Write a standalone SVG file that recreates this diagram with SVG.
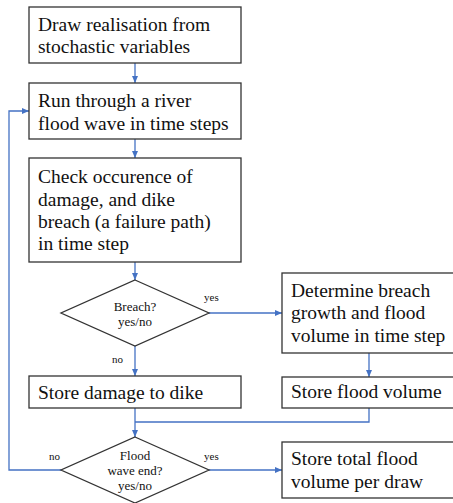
<svg xmlns="http://www.w3.org/2000/svg" width="453" height="503" viewBox="0 0 453 503">
<style>
.box{fill:#fff;stroke:#333;stroke-width:1.3}
.t{font-size:19.5px}
.s{font-size:13px;text-anchor:middle}
.l{font-size:11px}
.c{fill:none;stroke:#4472C4;stroke-width:1.3}
</style>
<defs>
<marker id="ah" markerWidth="7" markerHeight="6" refX="7" refY="3" orient="auto" markerUnits="userSpaceOnUse">
<path d="M0,0 L7,3 L0,6 z" fill="#4472C4"/>
</marker>
</defs>
<rect width="453" height="503" fill="#fff"/>
<g font-family="Liberation Serif, serif" fill="#111">
<g id="connectors">
<path class="c" d="M135,63 V83" marker-end="url(#ah)"/>
<path class="c" d="M135,139 V158" marker-end="url(#ah)"/>
<path class="c" d="M135,262 V280" marker-end="url(#ah)"/>
<path class="c" d="M209,313 H282" marker-end="url(#ah)"/>
<path class="c" d="M135,346 V376" marker-end="url(#ah)"/>
<path class="c" d="M369,353 V377" marker-end="url(#ah)"/>
<path class="c" d="M135,408 V437" marker-end="url(#ah)"/>
<path class="c" d="M369,408 V422 H135"/>
<path class="c" d="M209,470 H282" marker-end="url(#ah)"/>
<path class="c" d="M61,470 H9 V111 H29" marker-end="url(#ah)"/>
<text class="l" x="204" y="301">yes</text>
<text class="l" x="112" y="363">no</text>
<text class="l" x="49" y="460">no</text>
<text class="l" x="204" y="460">yes</text>
</g>
<g id="draw">
<rect class="box" x="29" y="7" width="212" height="56"/>
<text class="t" x="38" y="31">Draw realisation from</text>
<text class="t" x="38" y="53">stochastic variables</text>
</g>
<g id="run">
<rect class="box" x="29" y="83" width="212" height="56"/>
<text class="t" x="38" y="107">Run through a river</text>
<text class="t" x="38" y="130">flood wave in time steps</text>
</g>
<g id="check">
<rect class="box" x="29" y="158" width="212" height="104"/>
<text class="t" x="38" y="183">Check occurence of</text>
<text class="t" x="38" y="206">damage, and dike</text>
<text class="t" x="38" y="228">breach (a failure path)</text>
<text class="t" x="38" y="250">in time step</text>
</g>
<g id="breach">
<polygon class="box" points="135,280 209,313 135,346 61,313"/>
<text class="s" x="135" y="311">Breach?</text>
<text class="s" x="135" y="326">yes/no</text>
</g>
<g id="determine">
<rect class="box" x="282" y="273" width="175" height="80"/>
<text class="t" x="291" y="297">Determine breach</text>
<text class="t" x="291" y="319">growth and flood</text>
<text class="t" x="291" y="342">volume in time step</text>
</g>
<g id="damage">
<rect class="box" x="29" y="376" width="212" height="32"/>
<text class="t" x="38" y="399">Store damage to dike</text>
</g>
<g id="floodvolume">
<rect class="box" x="282" y="377" width="175" height="31"/>
<text class="t" x="291" y="398">Store flood volume</text>
</g>
<g id="waveend">
<polygon class="box" points="135,437 209,470 135,503 61,470"/>
<text class="s" x="135" y="460">Flood</text>
<text class="s" x="135" y="475">wave end?</text>
<text class="s" x="135" y="490">yes/no</text>
</g>
<g id="total">
<rect class="box" x="282" y="442" width="175" height="56"/>
<text class="t" x="291" y="465">Store total flood</text>
<text class="t" x="291" y="488">volume per draw</text>
</g>
</g>
</svg>
